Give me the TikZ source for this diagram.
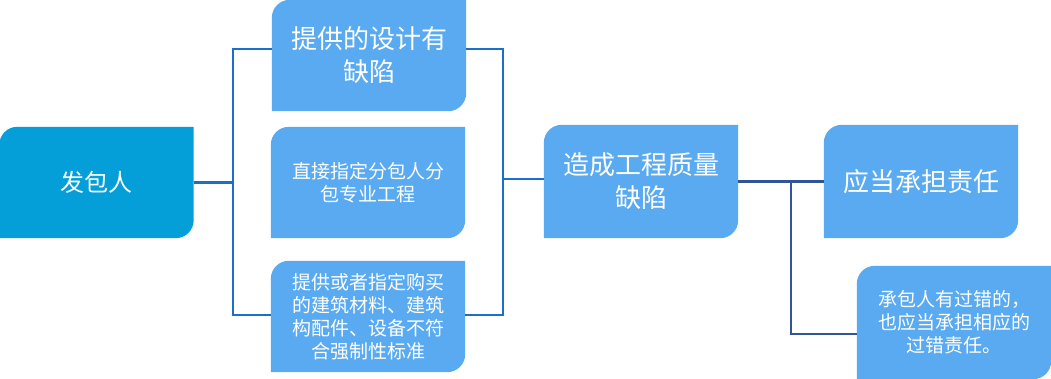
\documentclass[tikz,border=0pt]{standalone}
\usepackage{fontspec}
\setmainfont{Noto Sans CJK SC}
\usetikzlibrary{backgrounds}
\definecolor{darkbox}{HTML}{049FD9}
\definecolor{lightbox}{HTML}{5AAAF1}
\definecolor{lineA}{HTML}{1A6FC6}
\definecolor{lineB}{HTML}{2F5597}
\tikzset{
  box/.style={inner sep=0pt, text=white, align=center, minimum width=194pt, minimum height=111pt},
  bigtxt/.style={font=\fontsize{26}{33}\selectfont},
  smalltxt/.style={font=\fontsize{19}{23}\selectfont},
  conA/.style={draw=lineA, line width=2.9pt},
  conB/.style={draw=lineB, line width=2.9pt},
}
\newcommand\leafbox[2]{\fill[#2] (#1.south west) -- ([yshift=-18pt]#1.north west) arc[start angle=180,end angle=90,radius=18pt] -- (#1.north east) -- ([yshift=18pt]#1.south east) arc[start angle=0,end angle=-90,radius=18pt] -- cycle;}
\begin{document}
\begin{tikzpicture}[x=1pt,y=1pt]
\useasboundingbox (0,0) rectangle (1051,-379);
\node[box, font=\fontsize{24}{30}\selectfont] (A) at (96.5,-182.5) {发包人};
\node[box, bigtxt] (B1) at (369,-55.5) {提供的设计有\\缺陷};
\node[box, smalltxt] (B2) at (368,-182.5) {直接指定分包人分\\包专业工程};
\node[box, smalltxt] (B3) at (368,-316.5) {提供或者指定购买\\的建筑材料、建筑\\构配件、设备不符\\合强制性标准};
\node[box, bigtxt, minimum height=113pt] (M) at (641,-181.5) {造成工程质量\\缺陷};
\node[box, bigtxt, minimum height=113pt] (R1) at (921,-181.5) {应当承担责任};
\node[box, smalltxt, minimum height=113pt] (R2) at (954,-322.5) {承包人有过错的，\\也应当承担相应的\\过错责任。};
\begin{pgfonlayer}{background}
\leafbox{A}{darkbox}
\leafbox{B1}{lightbox}
\leafbox{B2}{lightbox}
\leafbox{B3}{lightbox}
\leafbox{M}{lightbox}
\leafbox{R1}{lightbox}
\leafbox{R2}{lightbox}
\end{pgfonlayer}
\coordinate (jl) at (233,-182.5);
\coordinate (jr) at (503,-179);
\coordinate (jd) at (791,-181.5);
\draw[conA] (A.east) -- (jl);
\draw[conA] ([yshift=6.5pt]B1.west) -| (jl) |- ([yshift=1.5pt]B3.west);
\draw[conA] ([yshift=6.5pt]B1.east) -| (jr) |- ([yshift=1.5pt]B3.east);
\draw[conA] (jr) -- (M.west |- jr);
\draw[conB] (M.east) -- (R1.west);
\draw[conB] (jd) |- ([yshift=-11.5pt]R2.west);
\end{tikzpicture}
\end{document}
